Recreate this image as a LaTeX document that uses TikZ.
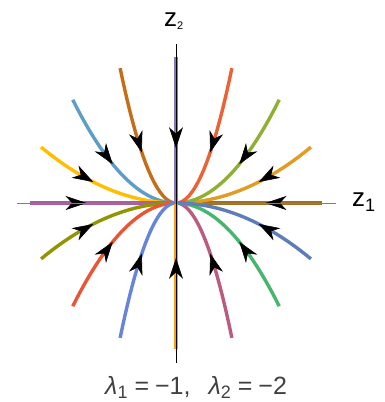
\documentclass[tikz,border=0pt]{standalone}
\usepackage{fontspec}
\setmainfont{Liberation Sans}
\usetikzlibrary{arrows.meta}
\definecolor{c0}{rgb}{0.62,0.44,0.15}
\definecolor{c1}{rgb}{0.880722,0.611041,0.142051}
\definecolor{c2}{rgb}{0.560181,0.691569,0.194885}
\definecolor{c3}{rgb}{0.922526,0.385626,0.209179}
\definecolor{c4}{rgb}{0.528488,0.470624,0.701351}
\definecolor{c5}{rgb}{0.772079,0.431554,0.102387}
\definecolor{c6}{rgb}{0.363898,0.618501,0.782349}
\definecolor{c7}{rgb}{1,0.75,0}
\definecolor{c8}{rgb}{0.647624,0.37816,0.614037}
\definecolor{c9}{rgb}{0.571589,0.586483,0.0}
\definecolor{c10}{rgb}{0.915,0.3325,0.2125}
\definecolor{c11}{rgb}{0.400822,0.522007,0.85}
\definecolor{c12}{rgb}{0.972829,0.621644,0.073362}
\definecolor{c13}{rgb}{0.736783,0.358,0.503027}
\definecolor{c14}{rgb}{0.280264,0.715,0.429209}
\definecolor{c15}{rgb}{0.36,0.49,0.72}
\definecolor{labelgray}{rgb}{0.25,0.25,0.25}
\begin{document}
\begin{tikzpicture}[x=1pt,y=1pt,
  traj/.style={line width=3.4pt},
  tipseg/.style={line width=0.6pt,-{Stealth[length=21pt,width=14pt,inset=6.5pt,color=black]}},
  axis/.style={line width=0.8pt}]
\useasboundingbox (-176,-199) rectangle (209,203);
\foreach \k in {0,...,15}{
  \pgfmathsetmacro\ang{22.5*\k}
  \pgfmathsetmacro\xo{146*cos(\ang)}
  \pgfmathsetmacro\yo{146*sin(\ang)}
  \draw[traj,c\k] plot[domain=0:7,samples=160,variable=\t] ({\xo*exp(-\t)},{\yo*exp(-2*\t)});
}
\draw[traj,c4] (0,146) -- (0,0);
\draw[traj,c12] (0,-146) -- (0,0);
\foreach \k in {0,...,15}{
  \pgfmathsetmacro\ang{22.5*\k}
  \pgfmathsetmacro\xo{146*cos(\ang)}
  \pgfmathsetmacro\yo{146*sin(\ang)}
  \draw[tipseg,c\k] ({\xo*exp(-0.28)},{\yo*exp(-0.56)}) -- ({\xo*exp(-0.49)},{\yo*exp(-0.98)});
}
\draw[axis,gray] (-159,0) -- (160,0);
\draw[axis,black] (0,159) -- (0,-160);
\node[anchor=base west,inner sep=0,font=\fontsize{26}{26}\selectfont] (zone) at (176,-3) {z\raisebox{-5pt}{\fontsize{18}{18}\selectfont 1}};
\node[anchor=base west,inner sep=0,font=\fontsize{26}{26}\selectfont] (ztwo) at (-12,176) {z\raisebox{-3pt}{\fontsize{11}{11}\selectfont 2}};
\node[anchor=base west,inner sep=0,text=labelgray,font=\fontsize{25}{25}\selectfont] (lam) at (-71,-191)
  {\textit{λ}\raisebox{-4pt}{\fontsize{18}{18}\selectfont 1}\hspace{7pt}=\hspace{6pt}−1,\hspace{18pt}\textit{λ}\raisebox{-4pt}{\fontsize{18}{18}\selectfont 2}\hspace{7pt}=\hspace{6pt}−2};
\end{tikzpicture}
\end{document}
